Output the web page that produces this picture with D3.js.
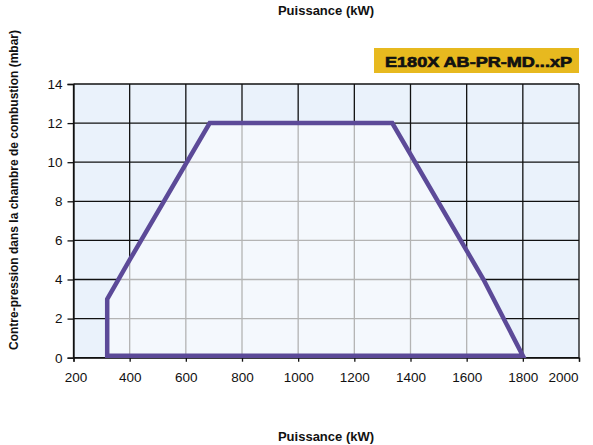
<!DOCTYPE html>
<html><head><meta charset="utf-8">
<script src="https://cdn.jsdelivr.net/npm/d3@7"></script>
<style>body{margin:0;background:#fff}svg{display:block}text{font-family:"Liberation Sans",Arial,Helvetica,sans-serif}</style>
</head><body>
<script>
const xTicks = [200,400,600,800,1000,1200,1400,1600,1800,2000];
const yTicks = [0,2,4,6,8,10,12,14];
const envX = [320,320,400,685,1335,1660,1800];
const envY = [0.1,3,5,12,12,4,0.1];
const modelLabel = "E180X AB-PR-MD...xP";
const xTitle = "Puissance (kW)";
const yTitle = "Contre-pression dans la chambre de combustion (mbar)";

const W=593,H=445;
const m={l:73.5,r:14,t:84,b:87.3};
const svg=d3.select("body").append("svg").attr("width",W).attr("height",H);
const x=d3.scaleLinear().domain([200,2000]).range([m.l,W-m.r]);
const y=d3.scaleLinear().domain([0,14]).range([H-m.b,m.t]);

svg.append("rect").attr("x",x(200)).attr("y",y(14)).attr("width",x(2000)-x(200)).attr("height",y(0)-y(14)).attr("fill","#eaf2fb");
const g=svg.append("g");
g.selectAll(".vx").data(xTicks).join("line").attr("x1",d=>x(d)).attr("x2",d=>x(d)).attr("y1",y(0)).attr("y2",y(14)).attr("stroke","#111").attr("stroke-width",1.3);
g.selectAll(".hy").data(yTicks).join("line").attr("y1",d=>y(d)).attr("y2",d=>y(d)).attr("x1",x(200)).attr("x2",x(2000)).attr("stroke","#111").attr("stroke-width",1.3);

const pts=envX.map((v,i)=>[x(v),y(envY[i])]);
const line=d3.line().curve(d3.curveLinearClosed);
svg.append("clipPath").attr("id","cp").append("path").attr("d",line(pts));
const inner=svg.append("g").attr("clip-path","url(#cp)");
inner.append("path").attr("d",line(pts)).attr("fill","#f4f8fd");
inner.selectAll(".v2").data(xTicks).join("line").attr("x1",d=>x(d)).attr("x2",d=>x(d)).attr("y1",y(0)).attr("y2",y(14)).attr("stroke","#b4b4b4").attr("stroke-width",1.3);
inner.selectAll(".h2").data(yTicks).join("line").attr("y1",d=>y(d)).attr("y2",d=>y(d)).attr("x1",x(200)).attr("x2",x(2000)).attr("stroke","#b4b4b4").attr("stroke-width",1.3);

const xa=svg.append("g").attr("transform",`translate(0,${y(0)})`).call(d3.axisBottom(x).tickValues(xTicks).tickSize(4).tickPadding(11).tickFormat(d3.format("d")));
const ya=svg.append("g").attr("transform",`translate(${x(200)},0)`).call(d3.axisLeft(y).tickValues(yTicks).tickSize(6).tickPadding(5).tickFormat(d3.format("d")));
[xa,ya].forEach(a=>{a.select(".domain").attr("stroke","#111").attr("stroke-width",1.3);a.selectAll(".tick line").attr("stroke","#111").attr("stroke-width",1.3);a.selectAll("text").attr("font-size",13.5).attr("fill","#111").style("font-family","'Liberation Sans',Arial,sans-serif");});
xa.selectAll(".tick text").filter(d=>d===2000).attr("text-anchor","end").attr("dx",-1);
xa.selectAll(".tick text").filter(d=>d===200).attr("dx",2);

svg.append("path").attr("d",line(pts)).attr("fill","none").attr("stroke","#5c4a98").attr("stroke-width",4.5).attr("stroke-linejoin","miter");

svg.append("text").attr("x",326).attr("y",14.5).attr("text-anchor","middle").attr("font-size",13).attr("font-weight","bold").attr("fill","#111").text(xTitle);
svg.append("text").attr("x",326).attr("y",441).attr("text-anchor","middle").attr("font-size",13).attr("font-weight","bold").attr("fill","#111").text(xTitle);
svg.append("text").attr("transform","translate(18,190) rotate(-90)").attr("text-anchor","middle").attr("font-size",12).attr("font-weight","bold").attr("fill","#111").text(yTitle);

svg.append("rect").attr("x",374).attr("y",48).attr("width",205).attr("height",25).attr("fill","#e7b91f");
svg.append("text").attr("x",385).attr("y",66.5).attr("font-size",15.5).attr("font-weight","900").attr("fill","#111").attr("stroke","#111").attr("stroke-width",0.7).attr("textLength",187).attr("lengthAdjust","spacingAndGlyphs").text(modelLabel);
</script>
</body></html>
